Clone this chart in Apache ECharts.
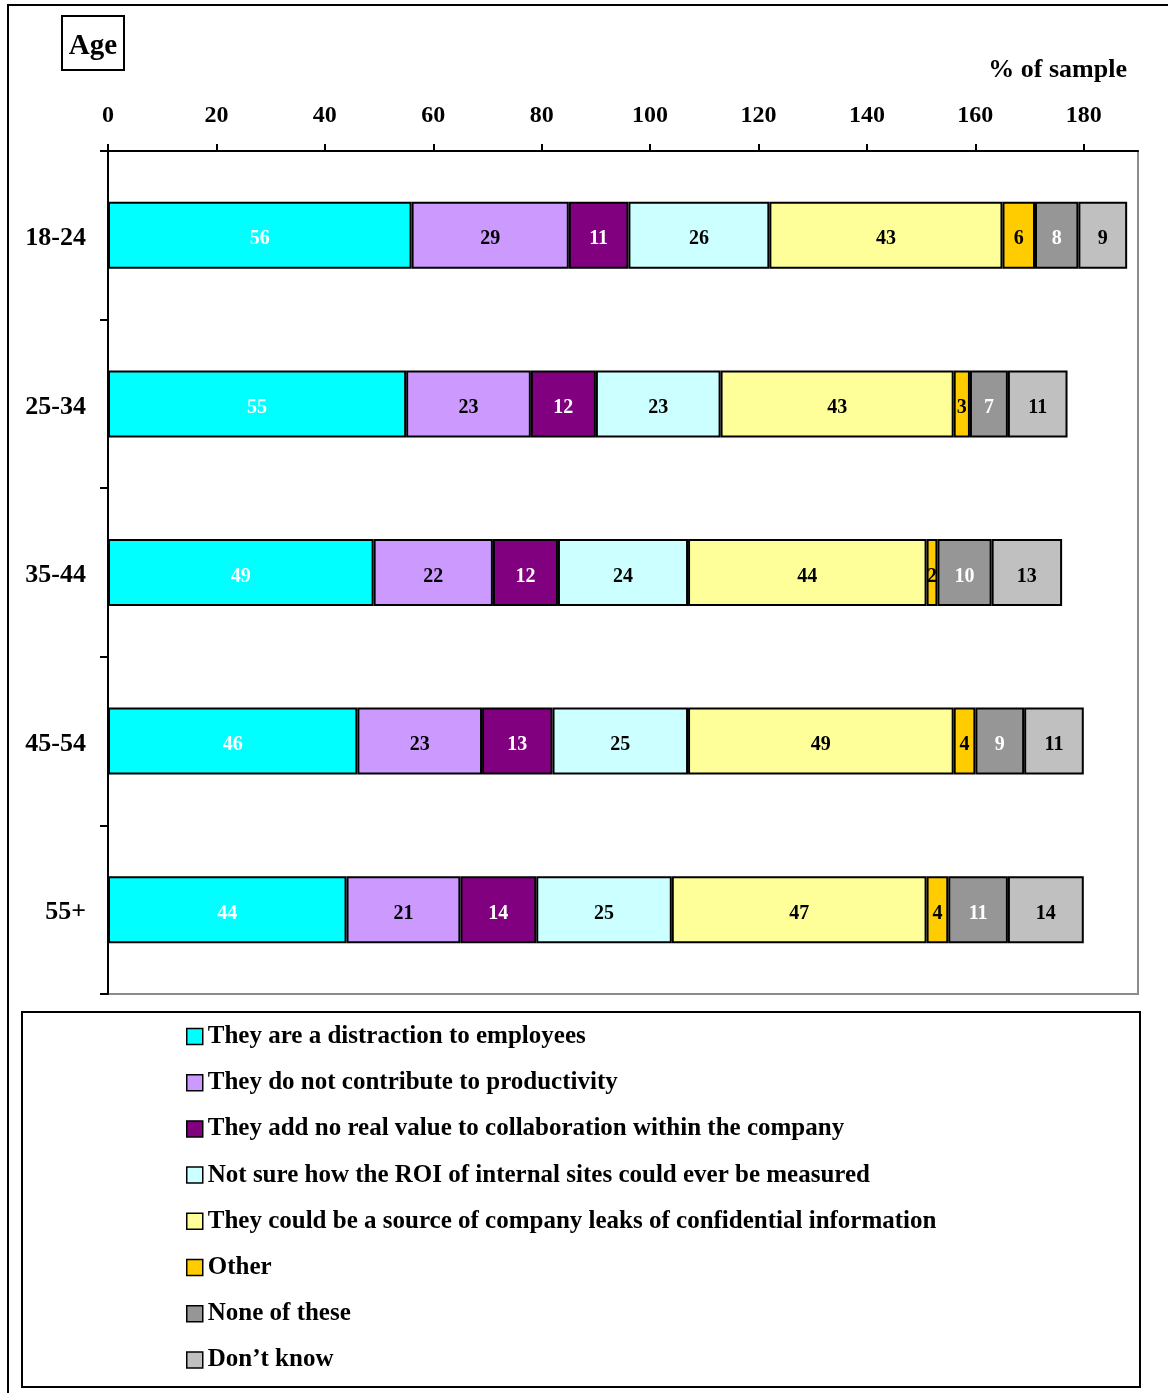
<!DOCTYPE html>
<html>
<head>
<meta charset="utf-8">
<script src="https://cdn.jsdelivr.net/npm/echarts@6/dist/echarts.min.js"></script>
<style>
  html, body { margin: 0; padding: 0; background: #fff; }
  #chart { width: 1168px; height: 1393px; }
</style>
</head>
<body>
<div id="chart"></div>
<script>
// age groups, top to bottom
const ageGroups = ['18-24', '25-34', '35-44', '45-54', '55+']
const xTicks = [0, 20, 40, 60, 80, 100, 120, 140, 160, 180]

const seriesNames = [
  'They are a distraction to employees',
  'They do not contribute to productivity',
  'They add no real value to collaboration within the company',
  'Not sure how the ROI of internal sites could ever be measured',
  'They could be a source of company leaks of confidential information',
  'Other',
  'None of these',
  'Don\u2019t know',
]
const distraction = [56, 55, 49, 46, 44]
const noProductivity = [29, 23, 22, 23, 21]
const noValue = [11, 12, 12, 13, 14]
const roiUnsure = [26, 23, 24, 25, 25]
const leaks = [43, 43, 44, 49, 47]
const other = [6, 3, 2, 4, 4]
const noneOfThese = [8, 7, 10, 9, 11]
const dontKnow = [9, 11, 13, 11, 14]

const seriesValues = [distraction, noProductivity, noValue, roiUnsure, leaks, other, noneOfThese, dontKnow]
const colors = ['#00ffff', '#cc99ff', '#800080', '#ccffff', '#ffff99', '#ffcc00', '#969696', '#c0c0c0']
const labelColors = ['#fff', '#000', '#fff', '#000', '#000', '#000', '#fff', '#000']

const serif = '"Liberation Serif", "DejaVu Serif", serif'

const chart = echarts.init(document.getElementById('chart'))

chart.setOption({
  animation: false,
  backgroundColor: '#fff',
  textStyle: { fontFamily: serif },
  grid: {
    left: 108, top: 151, right: 30, bottom: 399,
    show: true, backgroundColor: '#fff', borderColor: '#8c8c8c', borderWidth: 2,
  },
  xAxis: {
    type: 'value',
    position: 'top',
    min: 0,
    max: 190,
    interval: 20,
    splitLine: { show: false },
    axisLine: { show: true, lineStyle: { color: '#000', width: 2 } },
    axisTick: { show: true, inside: false, length: 7, lineStyle: { color: '#000', width: 2 }, customValues: xTicks },
    axisLabel: {
      customValues: xTicks,
      color: '#000', fontFamily: serif, fontWeight: 'bold', fontSize: 24, margin: 23,
    },
  },
  yAxis: {
    type: 'category',
    data: ageGroups,
    inverse: true,
    axisLine: { show: true, lineStyle: { color: '#000', width: 2 } },
    axisTick: { show: true, length: 8, lineStyle: { color: '#000', width: 2 } },
    axisLabel: { color: '#000', fontFamily: serif, fontWeight: 'bold', fontSize: 26, margin: 22, lineHeight: 32, verticalAlign: 'top', padding: [-13, 0, 0, 0] },
  },
  legend: {
    orient: 'vertical',
    left: 181,
    top: 1019,
    height: 370,
    itemWidth: 16,
    itemHeight: 16,
    itemGap: 21.2,
    icon: 'rect',
    itemStyle: { borderColor: '#000', borderWidth: 1.5 },
    textStyle: { color: '#000', fontFamily: serif, fontWeight: 'bold', fontSize: 25 },
    data: seriesNames,
  },
  series: seriesValues.map((vals, i) => ({
    name: seriesNames[i],
    type: 'bar',
    stack: 'total',
    barWidth: 67,
    data: vals,
    itemStyle: { color: colors[i], borderColor: '#000', borderWidth: 2 },
    label: {
      show: true,
      position: 'inside',
      offset: [0, 4],
      color: labelColors[i],
      fontFamily: serif,
      fontWeight: 'bold',
      fontSize: 20,
      textBorderWidth: 0,
    },
  })),
  graphic: [
    // outer frame (only left and top edges are visible)
    { type: 'rect', shape: { x: 8, y: 5, width: 1300, height: 1500 }, style: { fill: null, stroke: '#000', lineWidth: 2 }, silent: true },
    { type: 'rect', shape: { x: 62, y: 16, width: 62, height: 54 }, style: { fill: '#fff', stroke: '#000', lineWidth: 2 } },
    { type: 'text', x: 93, y: 47, style: { text: 'Age', font: 'bold 29px ' + serif, fill: '#000', align: 'center', verticalAlign: 'middle' } },
    { type: 'text', x: 1127, y: 70, style: { text: '% of sample', font: 'bold 26px ' + serif, fill: '#000', align: 'right', verticalAlign: 'middle' } },
    // legend box
    { type: 'rect', z: -1, shape: { x: 22, y: 1012, width: 1118, height: 375 }, style: { fill: '#fff', stroke: '#000', lineWidth: 2 } },
  ],
})
</script>
</body>
</html>
